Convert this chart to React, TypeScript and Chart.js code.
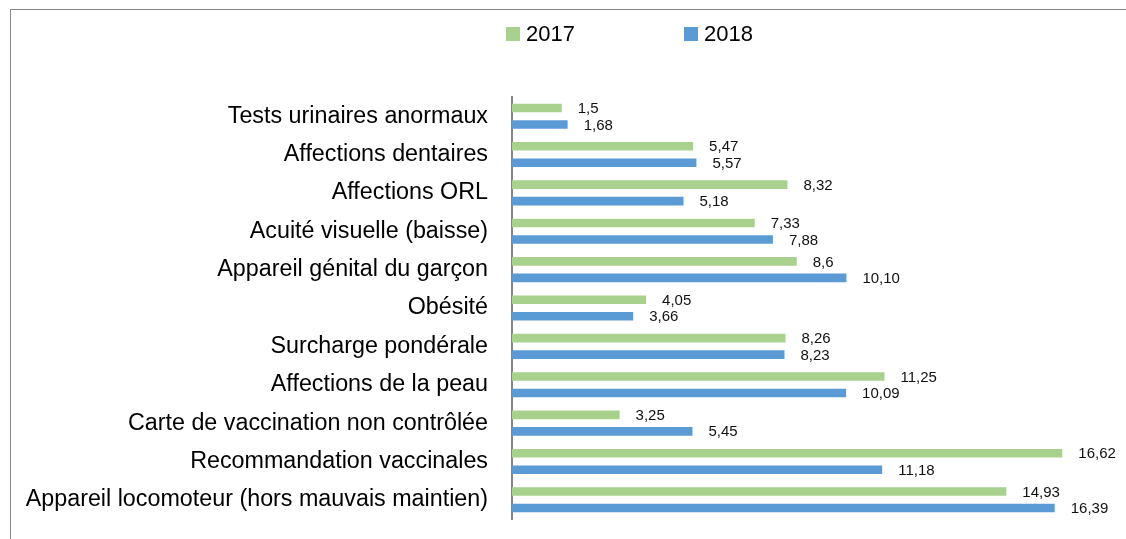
import React, { useEffect, useRef } from "react";
import { Chart, registerables } from "chart.js";

Chart.register(...registerables);

const categories = [
  "Tests urinaires anormaux",
  "Affections dentaires",
  "Affections ORL",
  "Acuité visuelle (baisse)",
  "Appareil génital du garçon",
  "Obésité",
  "Surcharge pondérale",
  "Affections de la peau",
  "Carte de vaccination non contrôlée",
  "Recommandation vaccinales",
  "Appareil locomoteur (hors mauvais maintien)",
];

const values2017 = [1.5, 5.47, 8.32, 7.33, 8.6, 4.05, 8.26, 11.25, 3.25, 16.62, 14.93];
const values2018 = [1.68, 5.57, 5.18, 7.88, 10.1, 3.66, 8.23, 10.09, 5.45, 11.18, 16.39];

const labels2017 = ["1,5", "5,47", "8,32", "7,33", "8,6", "4,05", "8,26", "11,25", "3,25", "16,62", "14,93"];
const labels2018 = ["1,68", "5,57", "5,18", "7,88", "10,10", "3,66", "8,23", "10,09", "5,45", "11,18", "16,39"];

const seriesNames = ["2017", "2018"];
const GREEN = "#A9D18E";
const BLUE = "#5B9BD5";
const FONT = "'Liberation Sans', Arial, sans-serif";

const valueLabelPlugin = {
  id: "valueLabels",
  afterDatasetsDraw(chart: any) {
    const ctx = chart.ctx;
    const texts = [labels2017, labels2018];
    ctx.save();
    ctx.font = `15px ${FONT}`;
    ctx.fillStyle = "#111";
    ctx.textAlign = "left";
    ctx.textBaseline = "middle";
    chart.data.datasets.forEach((_: any, di: number) => {
      const meta = chart.getDatasetMeta(di);
      meta.data.forEach((el: any, i: number) => {
        ctx.fillText(texts[di][i], el.x + 16, el.y + 1);
      });
    });
    ctx.restore();
  },
};

export default function App() {
  const canvasRef = useRef<HTMLCanvasElement | null>(null);

  useEffect(() => {
    if (!canvasRef.current) return;
    const chart = new Chart(canvasRef.current, {
      type: "bar",
      data: {
        labels: categories,
        datasets: [
          {
            label: seriesNames[0],
            data: values2017,
            backgroundColor: GREEN,
            categoryPercentage: 0.86,
            barPercentage: 0.52,
          },
          {
            label: seriesNames[1],
            data: values2018,
            backgroundColor: BLUE,
            categoryPercentage: 0.86,
            barPercentage: 0.52,
          },
        ],
      },
      options: {
        indexAxis: "y",
        animation: false,
        responsive: false,
        maintainAspectRatio: false,
        devicePixelRatio: 1,
        layout: { autoPadding: false, padding: { top: 97, bottom: 20, left: 0, right: 18 } },
        plugins: {
          legend: { display: false },
          tooltip: { enabled: false },
        },
        scales: {
          x: {
            display: false,
            min: 0,
            max: 18,
          },
          y: {
            grid: { display: false, drawTicks: false },
            border: { display: true, color: "#868686", width: 2 },
            ticks: {
              color: "#000",
              padding: 24,
              font: { family: FONT, size: 23.3 },
            },
            afterFit(scale: any) {
              scale.width = 512;
              scale.paddingTop = 0;
              scale.paddingBottom = 0;
            },
          },
        },
      },
      plugins: [valueLabelPlugin],
    });
    return () => chart.destroy();
  }, []);

  const legendItem = (color: string, text: string, left: number) => (
    <div
      style={{
        position: "absolute",
        left,
        top: 22,
        height: 24,
        display: "flex",
        alignItems: "center",
        fontFamily: FONT,
        fontSize: 22,
        color: "#000",
      }}
    >
      <span style={{ display: "inline-block", width: 14, height: 14, background: color, marginRight: 6 }} />
      <span>{text}</span>
    </div>
  );

  return (
    <div
      style={{
        position: "absolute",
        left: 0,
        top: 0,
        width: 1126,
        height: 539,
        overflow: "hidden",
        background: "#fff",
      }}
    >
      <div
        style={{
          position: "absolute",
          left: 10,
          top: 9,
          width: 1300,
          height: 700,
          borderTop: "1px solid #8a8a8a",
          borderLeft: "1px solid #8a8a8a",
        }}
      />
      <canvas
        ref={canvasRef}
        width={1126}
        height={539}
        style={{ position: "absolute", left: 0, top: 0, width: 1126, height: 539 }}
      />
      {legendItem(GREEN, seriesNames[0], 506)}
      {legendItem(BLUE, seriesNames[1], 684)}
    </div>
  );
}
